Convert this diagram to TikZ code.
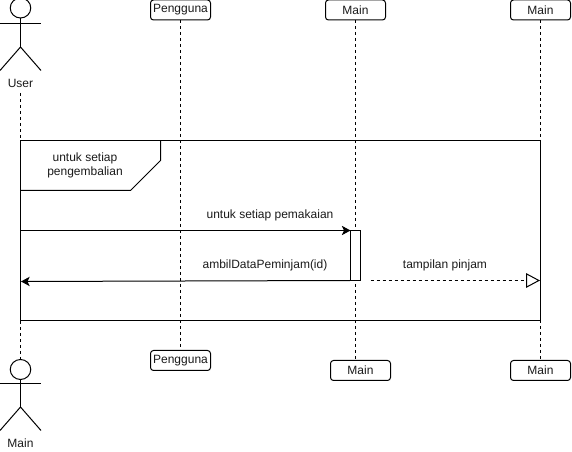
\documentclass[tikz,border=0pt]{standalone}
\usepackage{fontspec}
\setmainfont{Liberation Sans}
\usetikzlibrary{arrows.meta,shapes.geometric}
\definecolor{txt}{HTML}{1A1A1A}
\tikzset{
  px/.style={x=0.75pt,y=-0.75pt,line width=0.75pt},
  boxed/.style={draw,rectangle,rounded corners=2.25pt,minimum width=45pt,minimum height=15pt,inner sep=0pt,outer sep=0pt,fill=white,text=txt,font=\fontsize{9}{10.5}\selectfont},
  lbl/.style={inner sep=0pt,outer sep=0pt,text=txt,align=center,font=\fontsize{9}{10.5}\selectfont},
  lifeline/.style={dashed,dash pattern=on 2.25pt off 2.25pt},
  head/.style={draw,ellipse,minimum width=15.4pt,minimum height=15pt,inner sep=0pt,outer sep=0pt,fill=white},
  activation/.style={draw,rectangle,minimum width=7.5pt,minimum height=37.5pt,inner sep=0pt,outer sep=0pt,fill=white},
  framebox/.style={draw,rectangle,minimum width=390pt,minimum height=135pt,inner sep=0pt,outer sep=0pt},
  solidmsg/.style={-{Stealth[length=6.5pt,width=7pt,inset=1.6pt]}},
  openmsg/.style={lifeline,-{Triangle[open,length=10.5pt,width=11pt]}}
}
\begin{document}
\begin{tikzpicture}[px]
\clip (0,0) rectangle (572,452);
% lifeline heads and feet
\node[boxed] (p1) at (180.5,10) {Pengguna};
\node[boxed] (m1) at (355.5,10) {Main};
\node[boxed] (r1) at (540.5,10) {Main};
\node[boxed] (p2) at (180.5,360.5) {Pengguna};
\node[boxed] (m2) at (360.5,370.5) {Main};
\node[boxed] (r2) at (540.5,370.5) {Main};
\node[lbl] (ulabel) at (20.5,83) {User};
\node[lbl] (mlabel) at (20.5,443) {Main};
% top actor
\node[head] (h1) at (20.5,8) {};
\coordinate (hip1) at (20.5,47);
\draw (h1.south) -- (hip1);
\draw (0,24) -- (41,24);
\draw (0,70.5) -- (hip1) -- (41,70.5);
% bottom actor
\node[head] (h2) at (20.5,369.5) {};
\coordinate (hip2) at (20.5,407);
\draw (h2.south) -- (hip2);
\draw (0,384) -- (41,384);
\draw (0,430.5) -- (hip2) -- (41,430.5);
% lifelines
\coordinate (ustart) at (20.5,93);
\draw[lifeline] (ustart) -- (h2.north);
\draw[lifeline] (p1.south) -- (p2.north);
\coordinate (m2top) at (355.5,360.5);
\draw[lifeline] (m1.south) -- (m2top);
\draw[lifeline] (r1.south) -- (r2.north);
% frame
\node[framebox] (frame) at (280.5,230.5) {};
\coordinate (t1) at (160.5,140.5);
\coordinate (t2) at (160.5,160.5);
\coordinate (t3) at (130.5,190.5);
\coordinate (t4) at (20.5,190.5);
\draw (t1) -- (t2) -- (t3) -- (t4);
\node[lbl] (ftext) at (85,165) {untuk setiap\\pengembalian};
% activation
\node[activation] (act) at (355.5,255.5) {};
% messages
\coordinate (a0) at (20.5,230.5);
\coordinate (b0) at (21,281.5);
\coordinate (c0) at (370.5,280.5);
\coordinate (c1) at (540,280.5);
\draw[solidmsg] (a0) -- (act.north west);
\draw[solidmsg] (act.south west) -- (b0);
\draw[openmsg] (c0) -- (c1);
\node[lbl] (l1) at (270,215) {untuk setiap pemakaian};
\node[lbl] (l2) at (265,265) {ambilDataPeminjam(id)};
\node[lbl] (l3) at (445,265) {tampilan pinjam};
\end{tikzpicture}
\end{document}
